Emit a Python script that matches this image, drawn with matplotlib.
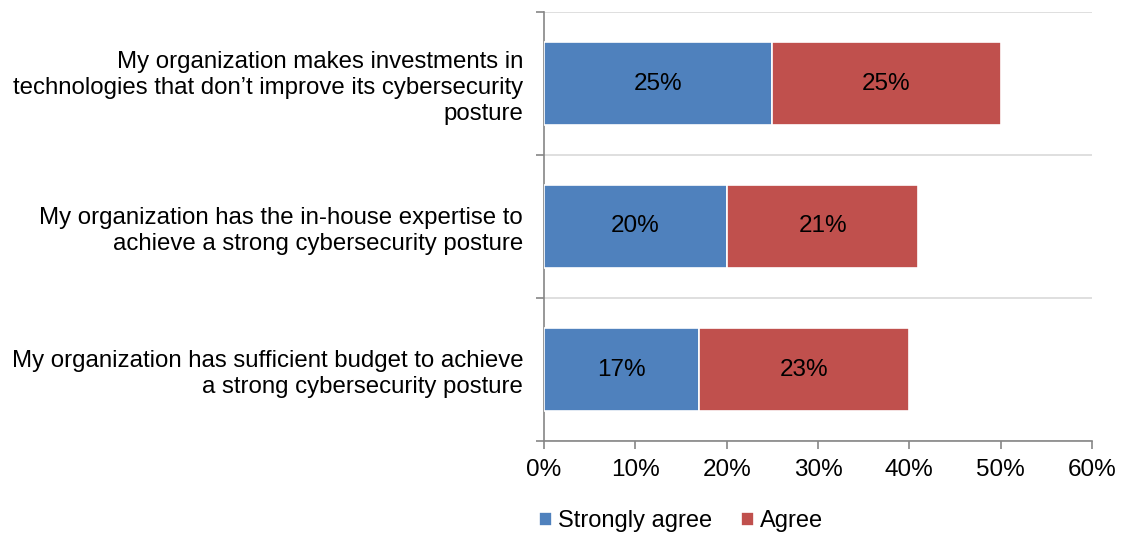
import numpy as np
import matplotlib.pyplot as plt

plt.rcParams['font.family'] = ['Liberation Sans', 'DejaVu Sans']

statements = [
    "My organization makes investments in\ntechnologies that don\u2019t improve its cybersecurity\nposture",
    "My organization has the in-house expertise to\nachieve a strong cybersecurity posture",
    "My organization has sufficient budget to achieve\na strong cybersecurity posture",
]
strongly_agree = [25, 20, 17]
agree = [25, 21, 23]
xticks = [0, 10, 20, 30, 40, 50, 60]

blue = '#4F81BD'
red = '#C0504D'
axis_gray = '#868686'
fs = 17.5

fig = plt.figure(figsize=(11.21, 5.35), dpi=100)
ax = fig.add_axes([544 / 1121, 1 - 441 / 535, 548 / 1121, 429 / 535])

# top statement first
y = np.arange(len(statements))[::-1]
h = 0.58
b1 = ax.barh(y, strongly_agree, height=h, color=blue, edgecolor='white', linewidth=1.2, zorder=3)
b2 = ax.barh(y, agree, left=strongly_agree, height=h, color=red, edgecolor='white', linewidth=1.2, zorder=3)

for vals, lefts in [(strongly_agree, [0, 0, 0]), (agree, strongly_agree)]:
    for yy, v, l in zip(y, vals, lefts):
        ax.text(l + v / 2, yy, f"{v}%", ha='center', va='center', fontsize=fs, color='black', zorder=4)

ax.set_xlim(0, 60)
ax.set_ylim(-0.5, 2.5)
ax.set_xticks(xticks)
ax.set_xticklabels([f"{t}%" for t in xticks], fontsize=fs)

# category borders as gridlines
ax.set_yticks([-0.5, 0.5, 1.5, 2.5])
ax.set_yticklabels([])
ax.set_yticks(y, minor=True)
ax.set_yticklabels(statements, minor=True, fontsize=17.3, ha='right')
ax.tick_params(axis='y', which='minor', length=0, pad=15)
ax.tick_params(axis='y', which='major', length=6, color=axis_gray, width=1.2)
ax.tick_params(axis='x', length=6, color=axis_gray, width=1.2, pad=7)
for t in ax.get_yticklabels(minor=True):
    t.set_linespacing(1.22)

ax.grid(axis='y', which='major', color='#D9D9D9', linewidth=1.2, zorder=0)

for s in ['top', 'right']:
    ax.spines[s].set_visible(False)
ax.spines['left'].set_color(axis_gray)
ax.spines['bottom'].set_color(axis_gray)
ax.spines['left'].set_linewidth(1.2)
ax.spines['bottom'].set_linewidth(1.2)

fig.legend([b1, b2], ['Strongly agree', 'Agree'], loc='center', bbox_to_anchor=(681 / 1121, 1 - 521 / 535),
           ncol=2, frameon=False, fontsize=17, handlelength=0.55, handleheight=0.55,
           handletextpad=0.25, columnspacing=1.2)

fig.savefig('out.png', dpi=100)
